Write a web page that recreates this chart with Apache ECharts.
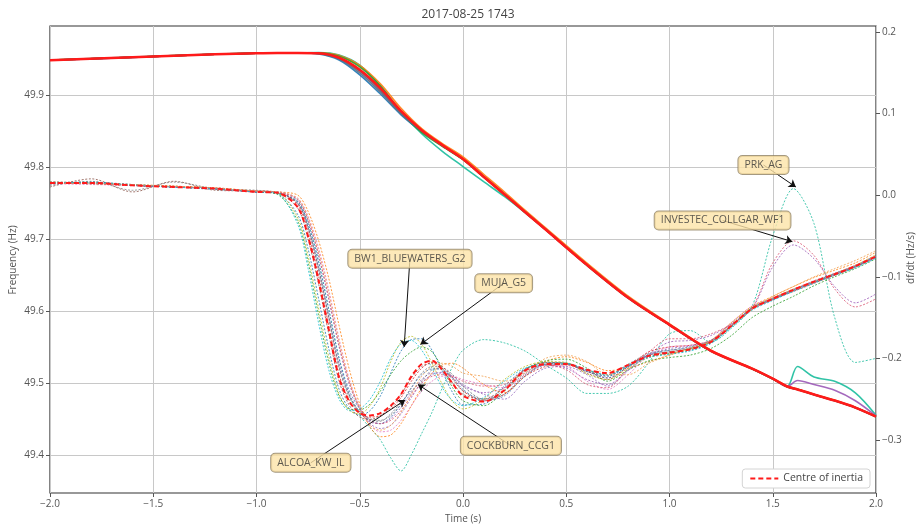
<!DOCTYPE html>
<html><head><meta charset="utf-8">
<script src="https://cdn.jsdelivr.net/npm/echarts@6/dist/echarts.min.js"></script>
<style>html,body{margin:0;padding:0;background:#fff}#c{width:918px;height:524px}</style>
</head><body><div id="c"></div>
<script>
// ---------- time bases ----------
const timeR = [-2.0,-1.8,-1.6,-1.4,-1.2,-1.0,-0.9,
  -0.8,-0.75,-0.7,-0.65,-0.6,-0.55,-0.5,-0.45,-0.4,-0.35,-0.3,-0.25,-0.2,-0.15,-0.1,-0.05,0.0,
  0.1,0.2,0.3,0.4,0.5,0.6,0.7,0.8,0.9,1.0,1.1,1.2,1.3,1.4,1.5,1.6,1.7,1.8,1.9,2.0];
const timeF = [-2.0,-1.6,-1.2,-1.0,-0.9,-0.8,-0.7,-0.6,-0.5,-0.4,-0.3,-0.2,-0.1,0.0,0.1,0.2,0.3,0.4,0.6,0.8,1.0,1.2,1.4,1.5,1.57,1.62,1.7,1.8,1.9,2.0];

// ---------- tick labels ----------
const xTicks = [-2.0,-1.5,-1.0,-0.5,0.0,0.5,1.0,1.5,2.0];
const freqTicks = [49.4,49.5,49.6,49.7,49.8,49.9];
const rocofTicks = [-0.3,-0.2,-0.1,0.0,0.1,0.2];

// ---------- centre of inertia ----------
const coiFreq = [49.9485,49.9526,49.9568,49.9582,49.9586,49.9586,49.9582,49.9520,49.9353,49.9097,49.8778,49.8515,49.8307,49.8114,49.7868,49.7625,49.7380,49.7136,49.6646,49.6190,49.5814,49.5454,49.5205,49.5066,49.4957,49.4917,49.4846,49.4762,49.4665,49.4540];
const coiRocof = [0.015,0.015,0.012,0.010,0.008,0.004,0.003,
  -0.015,-0.051,-0.104,-0.165,-0.224,-0.253,-0.267,-0.270,-0.267,-0.258,-0.244,-0.222,-0.207,-0.203,-0.214,-0.231,-0.246,
  -0.253,-0.239,-0.215,-0.207,-0.207,-0.214,-0.218,-0.208,-0.197,-0.193,-0.189,-0.180,-0.160,-0.139,-0.127,-0.116,-0.106,-0.097,-0.087,-0.075];

// ---------- unit frequency traces (left axis) ----------
const freqPRK = [49.9488,49.9528,49.9570,49.9583,49.9587,49.9588,49.9592,49.9558,49.9418,49.9127,49.8768,49.8465,49.8222,49.8010,49.7800,49.7595,49.7372,49.7136,49.6640,49.6185,49.5812,49.5450,49.5203,49.5064,49.4957,49.5235,49.5090,49.5030,49.4870,49.4560];
const freqPurple = [49.9484,49.9525,49.9567,49.9581,49.9585,49.9585,49.9578,49.9510,49.9333,49.9067,49.8758,49.8505,49.8302,49.8112,49.7870,49.7628,49.7384,49.7140,49.6650,49.6192,49.5815,49.5454,49.5204,49.5065,49.4957,49.5040,49.4985,49.4905,49.4760,49.4550];
const freqOrange = [49.9486,49.9526,49.9568,49.9582,49.9587,49.9588,49.9588,49.9550,49.9413,49.9157,49.8818,49.8535,49.8327,49.8144,49.7903,49.7660,49.7405,49.7160,49.6670,49.6210,49.5825,49.5462,49.5210,49.5070,49.4962,49.4922,49.4850,49.4766,49.4670,49.4546];
const freqMUJA = [49.9484,49.9525,49.9567,49.9582,49.9586,49.9585,49.9572,49.9488,49.9283,49.9017,49.8728,49.8495,49.8297,49.8110,49.7866,49.7622,49.7378,49.7134,49.6644,49.6188,49.5812,49.5452,49.5203,49.5064,49.4955,49.4915,49.4844,49.4760,49.4663,49.4538];
const freqGreen = [49.9486,49.9527,49.9569,49.9583,49.9587,49.9587,49.9585,49.9540,49.9393,49.9127,49.8768,49.8485,49.8290,49.8105,49.7862,49.7620,49.7376,49.7133,49.6643,49.6187,49.5811,49.5451,49.5202,49.5063,49.4955,49.4915,49.4843,49.4759,49.4662,49.4537];
const freqBrown = [49.9485,49.9526,49.9568,49.9582,49.9586,49.9586,49.9580,49.9515,49.9340,49.9080,49.8770,49.8510,49.8305,49.8116,49.7872,49.7630,49.7385,49.7140,49.6650,49.6193,49.5816,49.5455,49.5206,49.5067,49.4958,49.4918,49.4847,49.4763,49.4666,49.4541];
const freqCockburn = [49.9485,49.9526,49.9568,49.9582,49.9586,49.9585,49.9576,49.9502,49.9310,49.9045,49.8745,49.8500,49.8300,49.8112,49.7868,49.7626,49.7381,49.7137,49.6647,49.6191,49.5814,49.5454,49.5205,49.5066,49.4957,49.4917,49.4846,49.4762,49.4665,49.4540];

// ---------- unit df/dt traces (right axis) ----------
const rocofBW1 = [0.016,0.014,0.012,0.011,0.008,0.005,0.003,
  -0.028,-0.075,-0.138,-0.198,-0.244,-0.264,-0.268,-0.258,-0.236,-0.204,-0.180,-0.173,-0.183,-0.206,-0.232,-0.253,-0.262,
  -0.250,-0.226,-0.210,-0.204,-0.205,-0.219,-0.226,-0.212,-0.199,-0.194,-0.189,-0.179,-0.157,-0.137,-0.126,-0.115,-0.106,-0.096,-0.086,-0.073];
const rocofMUJA = [0.015,0.016,0.013,0.010,0.007,0.004,0.002,
  -0.024,-0.066,-0.126,-0.188,-0.238,-0.262,-0.270,-0.264,-0.246,-0.218,-0.191,-0.177,-0.176,-0.190,-0.216,-0.242,-0.257,
  -0.256,-0.234,-0.213,-0.205,-0.206,-0.216,-0.222,-0.209,-0.198,-0.194,-0.190,-0.181,-0.161,-0.138,-0.128,-0.117,-0.107,-0.098,-0.088,-0.076];
const rocofGreen = [0.014,0.015,0.012,0.010,0.008,0.004,0.001,
  -0.032,-0.082,-0.146,-0.205,-0.246,-0.262,-0.263,-0.256,-0.240,-0.220,-0.203,-0.192,-0.186,-0.192,-0.212,-0.236,-0.252,
  -0.258,-0.240,-0.214,-0.203,-0.201,-0.212,-0.228,-0.214,-0.203,-0.199,-0.196,-0.188,-0.172,-0.150,-0.136,-0.124,-0.111,-0.100,-0.090,-0.078];
const rocofCrimson = [0.016,0.015,0.012,0.010,0.008,0.004,0.004,
  -0.012,-0.046,-0.098,-0.160,-0.220,-0.252,-0.268,-0.272,-0.270,-0.262,-0.248,-0.228,-0.212,-0.205,-0.210,-0.224,-0.240,
  -0.252,-0.244,-0.222,-0.210,-0.208,-0.216,-0.224,-0.210,-0.192,-0.186,-0.184,-0.178,-0.160,-0.140,-0.128,-0.118,-0.108,-0.098,-0.088,-0.076];
const rocofPurple = [0.015,0.014,0.012,0.010,0.008,0.004,0.004,
  -0.006,-0.032,-0.074,-0.128,-0.186,-0.232,-0.262,-0.280,-0.286,-0.282,-0.268,-0.248,-0.230,-0.220,-0.217,-0.222,-0.232,
  -0.244,-0.250,-0.228,-0.212,-0.210,-0.220,-0.234,-0.215,-0.196,-0.188,-0.185,-0.178,-0.158,-0.139,-0.128,-0.117,-0.107,-0.098,-0.088,-0.077];
const rocofBrown = [0.010,0.020,0.004,0.017,0.006,0.005,0.003,
  -0.016,-0.054,-0.108,-0.170,-0.228,-0.258,-0.272,-0.275,-0.270,-0.260,-0.244,-0.224,-0.210,-0.206,-0.214,-0.230,-0.244,
  -0.250,-0.236,-0.214,-0.205,-0.206,-0.218,-0.226,-0.210,-0.196,-0.192,-0.188,-0.180,-0.160,-0.138,-0.126,-0.116,-0.105,-0.096,-0.086,-0.074];
const rocofGray = [0.012,0.017,0.006,0.016,0.008,0.006,0.003,
  -0.010,-0.040,-0.090,-0.150,-0.212,-0.248,-0.266,-0.274,-0.276,-0.270,-0.256,-0.236,-0.218,-0.210,-0.212,-0.226,-0.240,
  -0.250,-0.240,-0.218,-0.207,-0.207,-0.214,-0.220,-0.207,-0.194,-0.190,-0.187,-0.179,-0.161,-0.140,-0.128,-0.117,-0.107,-0.097,-0.087,-0.076];
const rocofPink = [0.014,0.013,0.012,0.010,0.008,0.005,0.004,
  -0.004,-0.026,-0.064,-0.116,-0.176,-0.226,-0.260,-0.282,-0.290,-0.288,-0.276,-0.258,-0.240,-0.228,-0.222,-0.222,-0.226,
  -0.232,-0.236,-0.220,-0.208,-0.210,-0.228,-0.238,-0.220,-0.196,-0.186,-0.184,-0.178,-0.156,-0.136,-0.126,-0.115,-0.105,-0.096,-0.086,-0.075];
const rocofOrange = [0.016,0.015,0.013,0.011,0.009,0.005,0.004,
  0.000,-0.020,-0.055,-0.102,-0.160,-0.214,-0.256,-0.284,-0.296,-0.294,-0.280,-0.258,-0.236,-0.218,-0.208,-0.206,-0.212,
  -0.232,-0.242,-0.222,-0.204,-0.198,-0.205,-0.215,-0.212,-0.204,-0.196,-0.188,-0.178,-0.156,-0.136,-0.124,-0.112,-0.101,-0.092,-0.083,-0.070];
const rocofALCOA = [0.015,0.015,0.012,0.010,0.008,0.004,0.003,
  -0.008,-0.036,-0.082,-0.140,-0.200,-0.240,-0.262,-0.276,-0.280,-0.272,-0.256,-0.236,-0.220,-0.213,-0.214,-0.224,-0.238,
  -0.252,-0.246,-0.222,-0.208,-0.207,-0.216,-0.224,-0.210,-0.195,-0.190,-0.186,-0.178,-0.160,-0.138,-0.127,-0.116,-0.106,-0.096,-0.087,-0.075];
const rocofCockburn = [0.015,0.014,0.012,0.010,0.008,0.004,0.003,
  -0.010,-0.040,-0.090,-0.150,-0.210,-0.246,-0.266,-0.276,-0.277,-0.268,-0.254,-0.240,-0.228,-0.214,-0.212,-0.220,-0.234,
  -0.250,-0.244,-0.220,-0.207,-0.206,-0.215,-0.221,-0.208,-0.196,-0.192,-0.188,-0.180,-0.160,-0.139,-0.127,-0.116,-0.106,-0.097,-0.087,-0.075];
const rocofPRK = [0.014,0.016,0.012,0.010,0.008,0.004,0.002,
  -0.008,-0.035,-0.080,-0.140,-0.200,-0.245,-0.270,-0.285,-0.300,-0.322,-0.338,-0.318,-0.292,-0.266,-0.236,-0.210,-0.190,
  -0.177,-0.181,-0.191,-0.208,-0.224,-0.243,-0.243,-0.234,-0.205,-0.170,-0.166,-0.180,-0.163,-0.136,-0.050,0.008,-0.035,-0.150,-0.205,-0.200];
const rocofInvestec = [0.015,0.014,0.012,0.011,0.008,0.005,0.004,
  -0.006,-0.030,-0.072,-0.126,-0.184,-0.230,-0.260,-0.276,-0.280,-0.276,-0.264,-0.246,-0.230,-0.222,-0.220,-0.222,-0.228,
  -0.234,-0.232,-0.214,-0.208,-0.214,-0.232,-0.236,-0.212,-0.192,-0.176,-0.176,-0.170,-0.158,-0.138,-0.083,-0.056,-0.074,-0.115,-0.137,-0.127];
const rocofPurple2 = [0.014,0.015,0.012,0.010,0.009,0.004,0.003,
  -0.010,-0.040,-0.088,-0.148,-0.206,-0.244,-0.266,-0.278,-0.280,-0.274,-0.260,-0.242,-0.226,-0.218,-0.218,-0.224,-0.234,
  -0.242,-0.236,-0.216,-0.208,-0.212,-0.226,-0.232,-0.214,-0.195,-0.180,-0.178,-0.172,-0.158,-0.139,-0.088,-0.061,-0.078,-0.112,-0.132,-0.121];
const rocofCyan = [0.016,0.015,0.013,0.010,0.008,0.004,0.002,
  -0.036,-0.090,-0.156,-0.214,-0.250,-0.264,-0.262,-0.250,-0.228,-0.200,-0.182,-0.178,-0.190,-0.212,-0.236,-0.252,-0.258,
  -0.248,-0.228,-0.212,-0.207,-0.206,-0.214,-0.220,-0.210,-0.199,-0.195,-0.191,-0.182,-0.162,-0.141,-0.129,-0.118,-0.108,-0.098,-0.089,-0.077];
const rocofOrange2 = [0.015,0.014,0.013,0.011,0.009,0.005,0.004,
  -0.004,-0.028,-0.068,-0.120,-0.180,-0.228,-0.262,-0.282,-0.288,-0.282,-0.266,-0.244,-0.222,-0.210,-0.206,-0.210,-0.218,
  -0.222,-0.228,-0.218,-0.200,-0.196,-0.204,-0.220,-0.220,-0.206,-0.196,-0.187,-0.178,-0.160,-0.140,-0.124,-0.112,-0.100,-0.090,-0.080,-0.068];

// ---------- annotations (data coordinates, right axis) ----------
const annoNames = ['PRK_AG','INVESTEC_COLLGAR_WF1','BW1_BLUEWATERS_G2','MUJA_G5','ALCOA_KW_IL','COCKBURN_CCG1'];
const annoBoxT  = [1.455, 1.257, -0.257, 0.197, -0.737, 0.232];
const annoBoxR  = [0.037, -0.031, -0.078, -0.108, -0.328, -0.307];
const annoTipT  = [1.612, 1.595, -0.285, -0.206, -0.280, -0.218];
const annoTipR  = [0.010, -0.057, -0.186, -0.183, -0.251, -0.232];

const units = [
  {name:'PRK_AG', color:'#1abc9c', rocof:rocofPRK, freq:freqPRK},
  {name:'Unit purple 2', color:'#9b59b6', rocof:rocofPurple2, freq:freqPurple},
  {name:'Unit orange', color:'#ff7f0e', rocof:rocofOrange, freq:freqOrange},
  {name:'MUJA_G5', color:'#1f77b4', rocof:rocofMUJA, freq:freqMUJA},
  {name:'Unit green', color:'#2ca02c', rocof:rocofGreen, freq:freqGreen},
  {name:'Unit brown', color:'#8c564b', rocof:rocofBrown, freq:freqBrown},
  {name:'COCKBURN_CCG1', color:'#5f6b7a', rocof:rocofCockburn, freq:freqCockburn},
  {name:'BW1_BLUEWATERS_G2', color:'#bcbd22', rocof:rocofBW1, freq:null},
  {name:'Unit crimson', color:'#d62728', rocof:rocofCrimson, freq:null},
  {name:'Unit purple', color:'#9467bd', rocof:rocofPurple, freq:null},
  {name:'Unit gray', color:'#7f7f7f', rocof:rocofGray, freq:null},
  {name:'Unit pink', color:'#e377c2', rocof:rocofPink, freq:null},
  {name:'ALCOA_KW_IL', color:'#4a78b5', rocof:rocofALCOA, freq:null},
  {name:'INVESTEC_COLLGAR_WF1', color:'#d9536f', rocof:rocofInvestec, freq:null},
  {name:'Unit cyan', color:'#17becf', rocof:rocofCyan, freq:null},
  {name:'Unit orange 2', color:'#f0a050', rocof:rocofOrange2, freq:null}
];

const FONT = "'Open Sans', 'DejaVu Sans', sans-serif";
const fmt = v => Number(v).toFixed(1).replace('-', '\u2212');
const pairs = (ts, vs) => ts.map((t, i) => [t, vs[i]]);

const series = [];
units.forEach(u => {
  if (u.freq) series.push({
    type:'line', name:u.name + ' f', yAxisIndex:0, data:pairs(timeF, u.freq),
    symbol:'none', smooth:0.3, silent:true, z:2,
    lineStyle:{color:u.color, width:1.6, opacity:0.9}, itemStyle:{color:u.color}
  });
});
units.forEach(u => {
  series.push({
    type:'line', name:u.name, yAxisIndex:1, data:pairs(timeR, u.rocof),
    symbol:'none', smooth:0.3, silent:true, z:3,
    lineStyle:{color:u.color, width:1, type:[2,1.6], opacity:0.8}, itemStyle:{color:u.color}
  });
});
series.push({
  type:'line', name:'COI frequency', yAxisIndex:0, data:pairs(timeF, coiFreq),
  symbol:'none', smooth:0.3, silent:true, z:5,
  lineStyle:{color:'#ff1a1a', width:2.6}, itemStyle:{color:'#ff1a1a'}
});
series.push({
  type:'line', name:'Centre of inertia', yAxisIndex:1, data:pairs(timeR, coiRocof),
  symbol:'none', smooth:0.3, silent:true, z:6,
  lineStyle:{color:'#ff1a1a', width:2, type:[5,3]}, itemStyle:{color:'#ff1a1a'}
});
// arrows
series.push({
  type:'scatter', name:'arrows', yAxisIndex:1, symbolSize:0, silent:true, z:20,
  data: annoTipT.map((t, i) => [t, annoTipR[i]]),
  markLine:{
    silent:true, animation:false, symbol:['none','arrow'], symbolSize:7, precision:4,
    lineStyle:{color:'#111', width:1, type:'solid'}, label:{show:false},
    emphasis:{disabled:true},
    data: annoNames.map((n, i) => [{coord:[annoBoxT[i], annoBoxR[i]]}, {coord:[annoTipT[i], annoTipR[i]]}])
  }
});
// annotation boxes
series.push({
  type:'scatter', name:'boxes', yAxisIndex:1, symbolSize:0, silent:true, z:30,
  data: annoNames.map((n, i) => ({name:n, value:[annoBoxT[i], annoBoxR[i]]})),
  label:{show:true, position:'inside', formatter:'{b}', color:'#333', fontSize:10.5, fontFamily:FONT,
    backgroundColor:'#fde4a8', borderColor:'#8f8060', borderWidth:1, borderRadius:4, padding:[4,6,3,6]},
  emphasis:{disabled:true}
});

const chart = echarts.init(document.getElementById('c'));
chart.setOption({
  animation:false,
  backgroundColor:'#fff',
  textStyle:{fontFamily:FONT},
  title:{text:'2017-08-25 1743', left:463, top:4, textAlign:'center',
    textStyle:{fontSize:12, fontWeight:'normal', color:'#444', fontFamily:FONT}},
  graphic:[
    {type:'text', x:13, y:260, rotation:Math.PI/2, silent:true,
      style:{text:'Frequency (Hz)', fill:'#555', fontSize:10, fontFamily:FONT, align:'center', verticalAlign:'middle'}},
    {type:'text', x:911, y:258, rotation:Math.PI/2, silent:true,
      style:{text:'df/dt (Hz/s)', fill:'#555', fontSize:10, fontFamily:FONT, align:'center', verticalAlign:'middle'}}
  ],
  legend:{data:['Centre of inertia'], right:48, bottom:36, backgroundColor:'#fff', borderColor:'#d4d4d4',
    borderWidth:1, borderRadius:3, padding:[4,7], itemWidth:28, itemHeight:10,
    itemStyle:{opacity:0},
    textStyle:{fontSize:10.5, color:'#444', fontFamily:FONT}},
  grid:{left:50, right:42, top:26, bottom:31, containLabel:false, outerBoundsMode:'none',
    show:true, borderColor:'#333', borderWidth:1.2, backgroundColor:'transparent'},
  xAxis:{type:'value', min:-2, max:2, interval:0.5,
    name:'Time (s)', nameLocation:'middle', nameGap:20,
    nameTextStyle:{fontSize:10, color:'#555', fontFamily:FONT},
    axisLine:{show:false, onZero:false},
    axisTick:{show:true, length:4, inside:false, lineStyle:{color:'#555'}},
    axisLabel:{formatter:fmt, fontSize:10, color:'#555', margin:6, fontFamily:FONT},
    splitLine:{show:true, lineStyle:{color:'#c8c8c8', width:1}}},
  yAxis:[
    {type:'value', position:'left', min:49.348, max:49.996,
      axisLine:{show:false, onZero:false},
      axisTick:{show:true, length:4, customValues:freqTicks, lineStyle:{color:'#555'}},
      axisLabel:{customValues:freqTicks, formatter:fmt, fontSize:10, color:'#555', margin:6, fontFamily:FONT},
      splitLine:{show:true, lineStyle:{color:'#c8c8c8', width:1}}},
    {type:'value', position:'right', min:-0.365, max:0.2073,
      axisLine:{show:false, onZero:false},
      axisTick:{show:true, length:4, customValues:rocofTicks, lineStyle:{color:'#555'}},
      axisLabel:{customValues:rocofTicks, formatter:fmt, fontSize:10, color:'#555', margin:6, fontFamily:FONT},
      splitLine:{show:false}}
  ],
  series: series
});
</script>
</body></html>
